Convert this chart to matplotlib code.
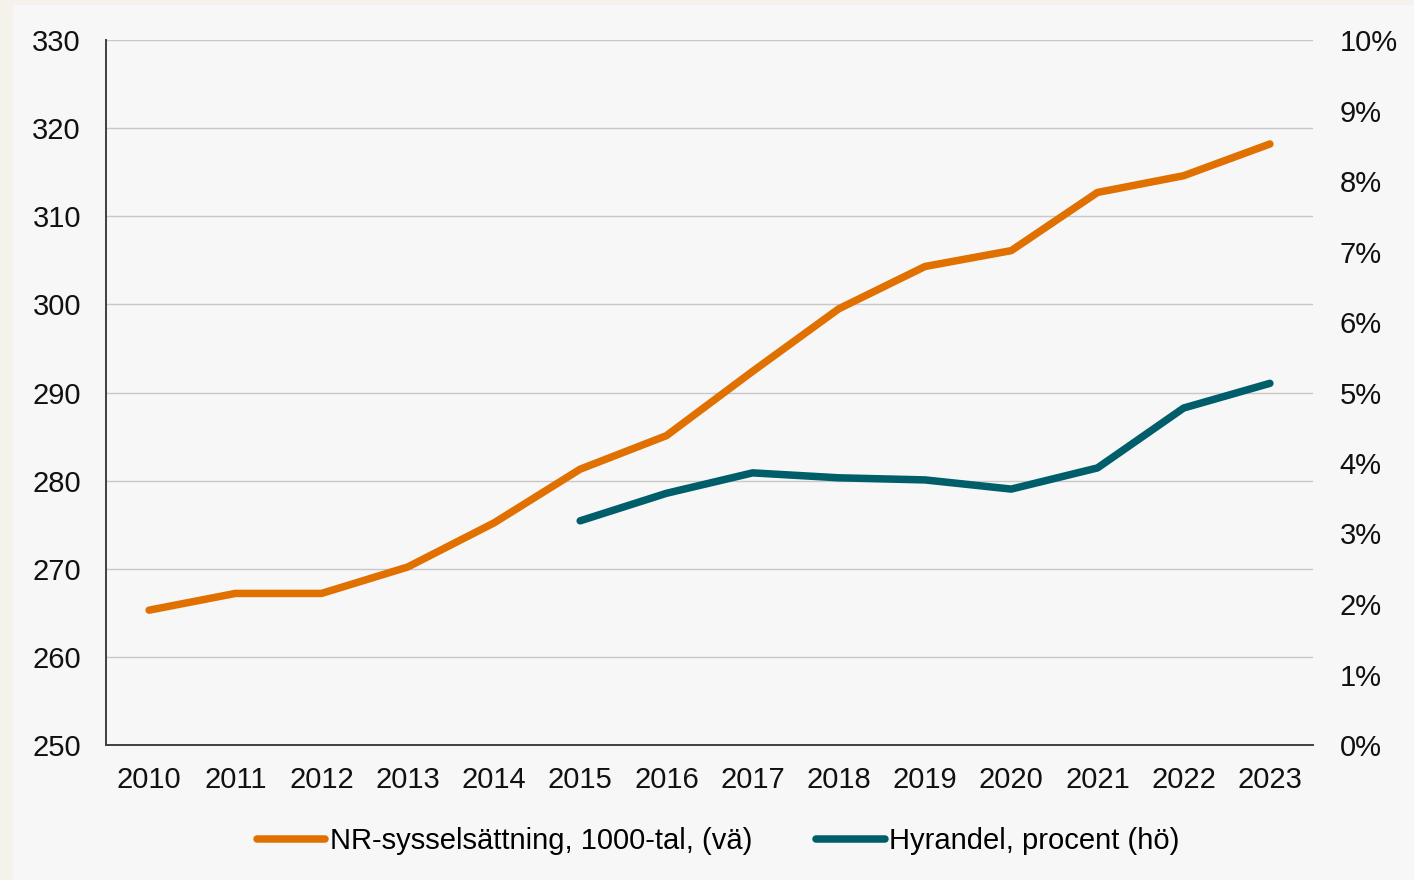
import matplotlib
matplotlib.use("Agg")
import matplotlib.pyplot as plt
from matplotlib.patches import Rectangle
from matplotlib.ticker import FuncFormatter

years = [2010, 2011, 2012, 2013, 2014, 2015, 2016, 2017, 2018, 2019, 2020, 2021, 2022, 2023]
nr_syssel = [265.3, 267.2, 267.2, 270.2, 275.2, 281.3, 285.1, 292.4, 299.5, 304.3, 306.1, 312.7, 314.6, 318.2]
hyr_years = [2015, 2016, 2017, 2018, 2019, 2020, 2021, 2022, 2023]
hyrandel = [3.18, 3.57, 3.86, 3.79, 3.76, 3.63, 3.93, 4.78, 5.13]
left_ticks = [250, 260, 270, 280, 290, 300, 310, 320, 330]
right_ticks = [0, 1, 2, 3, 4, 5, 6, 7, 8, 9, 10]
label_nr = "NR-sysselsättning, 1000-tal, (vä)"
label_hyr = "Hyrandel, procent (hö)"

plt.rcParams['font.family'] = ['Liberation Sans', 'DejaVu Sans']

fig = plt.figure(figsize=(14.14, 8.8), dpi=100)
fig.patch.set_facecolor('#f5f1eb')
fig.patches.append(Rectangle((13/1414, 0), 1 - 13/1414, 1 - 5/880, transform=fig.transFigure,
                             facecolor='#f7f7f7', edgecolor='none', zorder=-10))

ax = fig.add_axes([106/1414, 1 - 745/880, (1313 - 106)/1414, (745 - 40)/880])
ax.set_facecolor('none')
ax2 = ax.twinx()
ax2.set_facecolor('none')

orange = '#e07000'
teal = '#005e6b'
LW = 5.4

l1, = ax.plot(years, nr_syssel, color=orange, lw=LW, solid_capstyle='round', solid_joinstyle='round', zorder=3)
l2, = ax2.plot(hyr_years, hyrandel, color=teal, lw=LW, solid_capstyle='round', solid_joinstyle='round', zorder=3)

ax.set_xlim(2009.5, 2023.5)
ax.set_ylim(250, 330)
ax2.set_ylim(0, 10)
ax.set_yticks(left_ticks)
ax2.set_yticks(right_ticks)
ax.set_xticks(years)
ax2.yaxis.set_major_formatter(FuncFormatter(lambda v, p: f"{int(v)}%"))

ax.grid(axis='y', color='#c8c8c8', lw=1.0)
ax.set_axisbelow(True)

for a in (ax, ax2):
    a.spines['top'].set_visible(False)
    a.spines['right'].set_visible(False)
ax2.spines['left'].set_visible(False)
ax2.spines['bottom'].set_visible(False)
ax.spines['left'].set_color('#404040')
ax.spines['bottom'].set_color('#404040')
ax.spines['left'].set_linewidth(1.4)
ax.spines['bottom'].set_linewidth(1.4)

ax.tick_params(axis='both', length=0, labelsize=21, colors='#111111')
ax.tick_params(axis='y', pad=18)
ax.tick_params(axis='x', pad=15)
ax2.tick_params(axis='y', length=0, labelsize=21, colors='#111111', pad=19)

leg = fig.legend([l1, l2], [label_nr, label_hyr], loc='center', bbox_to_anchor=(0.508, 1 - 841/880),
                 ncol=2, frameon=False, fontsize=21, handlelength=2.35, handletextpad=0.15,
                 columnspacing=2.2)
for h in leg.legend_handles:
    h.set_linewidth(LW)
    h.set_solid_capstyle('round')

fig.savefig('out.png', dpi=100, facecolor=fig.get_facecolor())
